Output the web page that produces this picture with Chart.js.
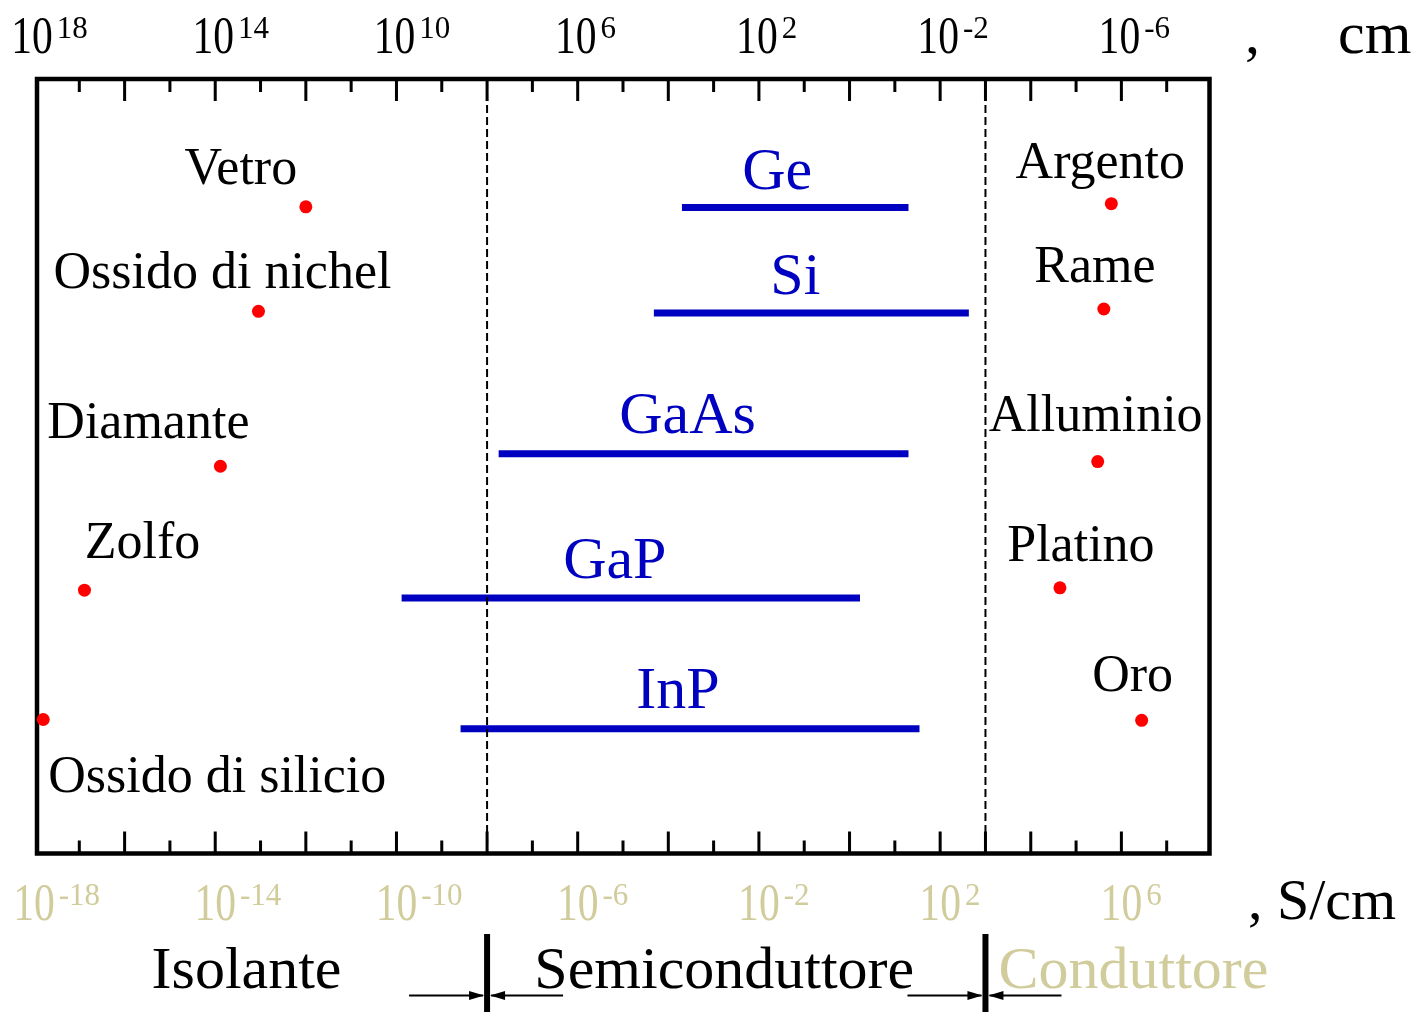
<!DOCTYPE html>
<html>
<head>
<meta charset="utf-8">
<script src="https://cdn.jsdelivr.net/npm/chart.js@4.4.1/dist/chart.umd.min.js"></script>
<style>
  html, body { margin: 0; padding: 0; background: #ffffff; }
  canvas { display: block; }
</style>
</head>
<body>
<canvas id="chart" width="1415" height="1012"></canvas>
<script>
// Electrical conductivity (S/cm) of some common materials
const insulators = ['Vetro', 'Ossido di nichel', 'Diamante', 'Zolfo', 'Ossido di silicio'];
const insulatorSigma = [1.0e-12, 9.0e-14, 1.3e-14, 1.3e-17, 1.6e-18];
const insulatorRow = [8.35, 7.00, 5.00, 3.40, 1.73];

const metals = ['Argento', 'Rame', 'Alluminio', 'Platino', 'Oro'];
const metalSigma = [6.0e5, 4.1e5, 3.0e5, 4.4e4, 2.8e6];
const metalRow = [8.39, 7.03, 5.06, 3.43, 1.72];

const semiconductors = ['Ge', 'Si', 'GaAs', 'GaP', 'InP'];
const semiSigmaMin = [2.0e-4, 4.8e-5, 1.8e-8, 1.3e-10, 2.6e-9];
const semiSigmaMax = [20, 430, 20, 1.7, 35];
const semiRow = [8.34, 6.98, 5.16, 3.30, 1.61];

// labelled decades (conductivity exponent); resistivity is the reciprocal
const labelExponents = [-18, -14, -10, -6, -2, 2, 6];
const firstDecade = -18;
const lastDecade = 8;

// class boundaries: insulator | semiconductor | conductor
const classBoundaries = [1e-8, 1e3];
const classNames = ['Isolante', 'Semiconduttore', 'Conduttore'];

// ---- styling ----
const SERIF = '"Liberation Serif", "Times New Roman", serif';
const BLUE = '#0000c0';
const RED = '#ff0000';
const KHAKI = '#d0cc9c';
const insulatorLabelOffset = [[-65, -23], [-36, -23], [-72, -28], [58, -32], [174, 72]];
const metalLabelOffset = [[-11, -26], [-9, -27], [-2, -31], [21, -27], [-9, -29]];
const semiLabelOffset = [[-18, -19], [-16, -19], [-16, -21], [-16, -20], [-12, -21]];

const dotPoints = insulatorSigma.map((v, i) => ({ x: v, y: insulatorRow[i] }))
  .concat(metalSigma.map((v, i) => ({ x: v, y: metalRow[i] })));

const datasets = [{
  label: 'materiali',
  data: dotPoints,
  showLine: false,
  pointRadius: 6.5,
  pointHoverRadius: 6.5,
  pointBackgroundColor: RED,
  pointBorderWidth: 0,
  clip: false
}];
semiconductors.forEach((name, i) => {
  datasets.push({
    label: name,
    data: [{ x: semiSigmaMin[i], y: semiRow[i] }, { x: semiSigmaMax[i], y: semiRow[i] }],
    showLine: true,
    borderColor: BLUE,
    borderWidth: 7,
    borderCapStyle: 'butt',
    pointRadius: 0,
    pointHoverRadius: 0
  });
});

function drawPower(ctx, cx, baseY, exp, color) {
  ctx.save();
  ctx.fillStyle = color;
  ctx.textAlign = 'left';
  ctx.textBaseline = 'alphabetic';
  ctx.font = '52px ' + SERIF;
  const sx = 0.8;
  const bw = ctx.measureText('10').width * sx;
  ctx.save();
  ctx.translate(cx - bw / 2, baseY);
  ctx.scale(sx, 1);
  ctx.fillText('10', 0, 0);
  ctx.restore();
  ctx.font = '31px ' + SERIF;
  ctx.fillText(String(exp), cx + bw / 2 + 4, baseY - 15);
  ctx.restore();
}

function arrowHead(ctx, tipX, y, dir) {
  ctx.beginPath();
  ctx.moveTo(tipX, y);
  ctx.lineTo(tipX - dir * 15, y - 4.5);
  ctx.lineTo(tipX - dir * 15, y + 4.5);
  ctx.closePath();
  ctx.fill();
}

const framePlugin = {
  id: 'frame',
  beforeDatasetsDraw(chart) {
    const { ctx, chartArea: a } = chart;
    ctx.save();
    ctx.strokeStyle = '#000';
    ctx.lineWidth = 4.5;
    ctx.strokeRect(a.left + 3, a.top, a.right - a.left - 5.5, a.bottom - a.top);
    ctx.restore();
  },
  afterDatasetsDraw(chart) {
    const { ctx, chartArea: a, scales } = chart;
    const xs = scales.x, ys = scales.y;
    ctx.save();

    // decade ticks, pointing inward from top and bottom edges
    const boundaryExp = classBoundaries.map(b => Math.round(Math.log10(b)));
    ctx.strokeStyle = '#000';
    ctx.lineWidth = 3;
    for (let e = firstDecade + 1; e < lastDecade; e++) {
      const px = xs.getPixelForValue(Math.pow(10, e));
      const len = (e % 2 === 0 || boundaryExp.includes(e)) ? 22 : 13;
      ctx.beginPath();
      ctx.moveTo(px, a.top); ctx.lineTo(px, a.top + len);
      ctx.moveTo(px, a.bottom); ctx.lineTo(px, a.bottom - len);
      ctx.stroke();
    }

    // class boundaries inside the plot
    ctx.lineWidth = 2;
    ctx.setLineDash([8, 4]);
    classBoundaries.forEach(b => {
      const px = xs.getPixelForValue(b);
      ctx.beginPath();
      ctx.moveTo(px, a.top + 2); ctx.lineTo(px, a.bottom - 2);
      ctx.stroke();
    });
    ctx.setLineDash([]);

    // tick labels: resistivity on top, conductivity below
    labelExponents.forEach(e => {
      const px = xs.getPixelForValue(Math.pow(10, e));
      drawPower(ctx, px - 2, 53, -e, '#000');
      drawPower(ctx, px, 920, e, KHAKI);
    });
    ctx.fillStyle = '#000';
    ctx.textBaseline = 'alphabetic';
    ctx.textAlign = 'left';
    ctx.font = '60px ' + SERIF;
    ctx.fillText(',', 1245, 53);
    ctx.fillText('cm', 1338, 53);
    ctx.font = '58px ' + SERIF;
    ctx.fillText(', S/cm', 1248, 919);

    // material labels
    ctx.textAlign = 'center';
    ctx.font = '52px ' + SERIF;
    ctx.fillStyle = '#000';
    insulators.forEach((name, i) => {
      const px = xs.getPixelForValue(insulatorSigma[i]);
      const py = ys.getPixelForValue(insulatorRow[i]);
      ctx.fillText(name, px + insulatorLabelOffset[i][0], py + insulatorLabelOffset[i][1]);
    });
    metals.forEach((name, i) => {
      const px = xs.getPixelForValue(metalSigma[i]);
      const py = ys.getPixelForValue(metalRow[i]);
      ctx.fillText(name, px + metalLabelOffset[i][0], py + metalLabelOffset[i][1]);
    });
    ctx.font = '60px ' + SERIF;
    ctx.fillStyle = BLUE;
    semiconductors.forEach((name, i) => {
      const x0 = xs.getPixelForValue(semiSigmaMin[i]);
      const x1 = xs.getPixelForValue(semiSigmaMax[i]);
      const py = ys.getPixelForValue(semiRow[i]);
      ctx.fillText(name, (x0 + x1) / 2 + semiLabelOffset[i][0], py + semiLabelOffset[i][1]);
    });

    // class ranges below the axis
    const bx = classBoundaries.map(b => xs.getPixelForValue(b));
    const arrowY = 995.5;
    ctx.strokeStyle = '#000';
    ctx.fillStyle = '#000';
    bx.forEach(px => {
      ctx.lineWidth = 6;
      ctx.beginPath();
      ctx.moveTo(px, 934); ctx.lineTo(px, 1012);
      ctx.stroke();
      ctx.lineWidth = 2;
      ctx.beginPath();
      ctx.moveTo(px - 78, arrowY); ctx.lineTo(px - 4, arrowY);
      ctx.moveTo(px + 4, arrowY); ctx.lineTo(px + 76, arrowY);
      ctx.stroke();
      arrowHead(ctx, px - 3, arrowY, 1);
      arrowHead(ctx, px + 3, arrowY, -1);
    });
    ctx.font = '60px ' + SERIF;
    ctx.textAlign = 'center';
    ctx.fillStyle = '#000';
    ctx.fillText(classNames[0], (a.left + bx[0]) / 2 - 14, 988);
    ctx.fillText(classNames[1], (bx[0] + bx[1]) / 2 - 12, 988);
    ctx.fillStyle = KHAKI;
    ctx.textAlign = 'left';
    ctx.fillText(classNames[2], bx[1] + 13, 988);
    ctx.restore();
  }
};

new Chart(document.getElementById('chart'), {
  type: 'scatter',
  data: { datasets },
  options: {
    responsive: false,
    animation: false,
    devicePixelRatio: 1,
    layout: { padding: { left: 34, right: 203, top: 79, bottom: 158.5 } },
    plugins: { legend: { display: false }, tooltip: { enabled: false } },
    events: [],
    scales: {
      x: { type: 'logarithmic', min: Math.pow(10, firstDecade), max: Math.pow(10, lastDecade), display: false },
      y: { type: 'linear', min: 0, max: 10, display: false }
    }
  },
  plugins: [framePlugin]
});
</script>
</body>
</html>
